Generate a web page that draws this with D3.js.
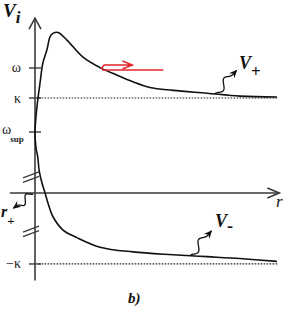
<!DOCTYPE html>
<html>
<head>
<meta charset="utf-8">
<script src="https://cdn.jsdelivr.net/npm/d3@7"></script>
<style>
  html, body { margin: 0; padding: 0; background: #fff; }
  svg { display: block; font-family: "Liberation Serif", "DejaVu Serif", serif; }
</style>
</head>
<body>
<div id="chart"></div>
<script>
// schematic potential curve V(r): one branch from V+ (top right) down through V- (bottom right)
const curveR = [10.08, 8.54, 7.17, 5.75, 4.79, 4.08, 3.42, 2.71, 2.0, 1.33, 0.96, 0.75, 0.62, 0.5, 0.33,
  0.21, 0.12, 0.04, 0.0, 0.04, 0.12, 0.17, 0.29, 0.42, 0.54, 0.75, 1.17, 1.75, 2.71, 4.08, 5.75, 7.17, 8.54, 10.08];
const curveV = [1.01, 1.02, 1.05, 1.08, 1.11, 1.17, 1.24, 1.32, 1.43, 1.61, 1.69, 1.68, 1.64, 1.51, 1.37,
  1.16, 0.99, 0.8, 0.63, 0.48, 0.37, 0.24, 0.105, 0.0, -0.105, -0.25, -0.39, -0.47, -0.57, -0.62, -0.65, -0.67, -0.69, -0.72];

// y-axis tick marks
const tickNames = ["ω", "κ", "ω", "−κ"];
const tickSubs = ["", "", "sup", ""];
const tickValues = [1.316, 1.0, 0.642, -0.747];

// dotted asymptotes
const asymptotes = [1.0, -0.747];

// red arrow at the omega crossing
const redStartR = 2.71;
const redEndR = 5.35;
const redArrowEndR = 4.06;

const W = 286, H = 313;
const x = d3.scaleLinear().domain([0, 10]).range([35, 275]);
const y = d3.scaleLinear().domain([0, 1]).range([193, 98]);

const svg = d3.select("#chart").append("svg").attr("width", W).attr("height", H);

const defs = svg.append("defs");
defs.append("marker")
  .attr("id", "barb")
  .attr("viewBox", "0 0 10 10")
  .attr("refX", 8).attr("refY", 5)
  .attr("markerWidth", 7).attr("markerHeight", 7)
  .attr("orient", "auto")
  .append("path")
  .attr("d", "M0,1 L9,5 L0,9 L3,5 Z")
  .attr("fill", "#111");

// axes
const axisColor = "#3a3a3a";
svg.append("line")
  .attr("x1", x(0)).attr("x2", x(0))
  .attr("y1", y(-0.92)).attr("y2", y(1.84))
  .attr("stroke", axisColor).attr("stroke-width", 1.6);
svg.append("path")
  .attr("d", `M${x(0) - 6},${y(1.84) + 11} L${x(0)},${y(1.84)} L${x(0) + 6},${y(1.84) + 11}`)
  .attr("fill", "none").attr("stroke", axisColor).attr("stroke-width", 1.6);

svg.append("line")
  .attr("x1", x(-1.05)).attr("x2", x(10.18))
  .attr("y1", y(0)).attr("y2", y(0))
  .attr("stroke", axisColor).attr("stroke-width", 1.6);
svg.append("path")
  .attr("d", `M${x(10.18) - 12},${y(0) - 5} L${x(10.18)},${y(0)} L${x(10.18) - 12},${y(0) + 5}`)
  .attr("fill", "none").attr("stroke", axisColor).attr("stroke-width", 1.6);

// axis break marks on the vertical axis
[0.19, -0.38].forEach((v) => {
  [0, 4.5].forEach((dy) => {
    svg.append("line")
      .attr("x1", x(0) - 12).attr("y1", y(v) + 3 + dy)
      .attr("x2", x(0) + 4).attr("y2", y(v) - 3 + dy)
      .attr("stroke", axisColor).attr("stroke-width", 1.3);
  });
});

// dotted asymptotes
svg.selectAll(".asym")
  .data(asymptotes)
  .join("line")
  .attr("class", "asym")
  .attr("x1", x(0.15)).attr("x2", x(10.1))
  .attr("y1", (d) => y(d)).attr("y2", (d) => y(d))
  .attr("stroke", "#222").attr("stroke-width", 1.2)
  .attr("stroke-dasharray", "1.6,1.4");

// ticks + labels
tickValues.forEach((v, i) => {
  svg.append("line")
    .attr("x1", x(0) - 6).attr("x2", x(0) + 6)
    .attr("y1", y(v)).attr("y2", y(v))
    .attr("stroke", axisColor).attr("stroke-width", 1.4);
  const t = svg.append("text")
    .attr("y", y(v) + 4.5)
    .attr("font-size", 14)
    .attr("fill", "#222");
  if (tickSubs[i]) {
    t.attr("x", 2).attr("text-anchor", "start").attr("y", y(v) + 2);
    t.append("tspan").text(tickNames[i]);
    t.append("tspan").attr("dy", 8).attr("dx", -1).attr("font-size", 9)
      .attr("font-weight", "bold").text(tickSubs[i]);
  } else {
    t.attr("x", 21).attr("text-anchor", "end").text(tickNames[i]);
  }
});

// the potential curve
svg.append("path")
  .datum(curveR.map((r, i) => [r, curveV[i]]))
  .attr("d", d3.line().x((d) => x(d[0])).y((d) => y(d[1])).curve(d3.curveCatmullRom.alpha(0.5)))
  .attr("fill", "none").attr("stroke", "#111").attr("stroke-width", 1.6);

// red arrow
const red = "#e3262b";
const yo = y(1.316);
svg.append("line")
  .attr("x1", x(redStartR) + 2).attr("x2", x(redEndR))
  .attr("y1", yo + 2).attr("y2", yo + 2)
  .attr("stroke", red).attr("stroke-width", 1.4);
svg.append("path")
  .attr("d", `M${x(redStartR) + 1},${yo + 1} L${x(redStartR) + 4},${yo - 3} L${x(redArrowEndR)},${yo - 3}` +
    ` M${x(redArrowEndR) - 10},${yo - 7} L${x(redArrowEndR)},${yo - 3} L${x(redArrowEndR) - 10},${yo + 1}`)
  .attr("fill", "none").attr("stroke", red).attr("stroke-width", 1.4);

// wavy pointer arrows
function squiggle(x0, y0, x1, y1) {
  const dx = x1 - x0, dy = y1 - y0;
  const len = Math.hypot(dx, dy);
  const px = -dy / len, py = dx / len;
  const pts = d3.range(0, 1.0001, 0.05).map((t) => {
    const env = t < 0.8 ? Math.sin(Math.PI * t / 0.8) : 0;
    const a = 5.5 * env * Math.sin(2 * Math.PI * t / 0.8);
    return [x0 + dx * t + px * a, y0 + dy * t + py * a];
  });
  svg.append("path")
    .attr("d", d3.line().curve(d3.curveBasis)(pts))
    .attr("fill", "none").attr("stroke", "#111").attr("stroke-width", 1.3)
    .attr("marker-end", "url(#barb)");
}
squiggle(x(7.5), y(1.045), x(8.4), y(1.29));
squiggle(x(6.45), y(-0.66), x(7.35), y(-0.4));
squiggle(x(-0.08), y(-0.01), x(-0.9), y(-0.16));

// labels
function label(xp, yp, main, sub, size, subSize, subDy) {
  const t = svg.append("text").attr("x", xp).attr("y", yp)
    .attr("font-size", size).attr("font-weight", "bold").attr("font-style", "italic").attr("fill", "#111");
  t.append("tspan").text(main);
  if (sub) t.append("tspan").attr("dy", subDy).attr("font-size", subSize).attr("font-style", "normal").text(sub);
  return t;
}
label(3, 17, "V", "i", 19, 17, 6).select("tspan:last-child").attr("font-style", "italic");
label(239, 69, "V", "+", 18, 17, 8);
label(215, 227, "V", "-", 18, 18, 5);
label(1, 217, "r", "+", 16, 13, 8);

svg.append("text")
  .attr("x", 276).attr("y", 207)
  .attr("font-size", 17).attr("font-style", "italic").attr("fill", "#111")
  .text("r");

svg.append("text")
  .attr("x", 128).attr("y", 303)
  .attr("font-size", 15).attr("font-weight", "bold").attr("font-style", "italic").attr("fill", "#111")
  .text("b)");
</script>
</body>
</html>
